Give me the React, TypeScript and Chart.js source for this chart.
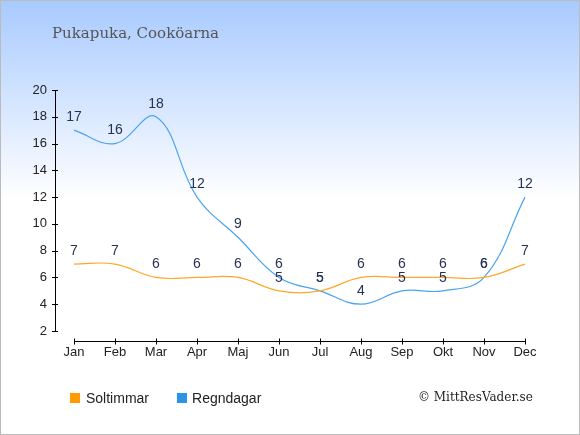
import { useEffect, useRef } from "react";
import { Chart, registerables } from "chart.js";

Chart.register(...registerables);

const months = ["Jan", "Feb", "Mar", "Apr", "Maj", "Jun", "Jul", "Aug", "Sep", "Okt", "Nov", "Dec"];
const sunHours = [7, 7, 6, 6, 6, 5, 5, 6, 6, 6, 6, 7];
const rainDays = [17, 16, 18, 12, 9, 6, 5, 4, 5, 5, 6, 12];
const yTicks = [2, 4, 6, 8, 10, 12, 14, 16, 18, 20];

const W = 580;
const H = 435;

const backgroundPlugin = {
  id: "bg",
  beforeDraw(chart: Chart) {
    const ctx = chart.ctx;
    ctx.save();
    const g = ctx.createLinearGradient(0, 0, 0, 200);
    g.addColorStop(0, "#a8caff");
    g.addColorStop(1, "#ffffff");
    ctx.fillStyle = "#ffffff";
    ctx.fillRect(0, 0, W, H);
    ctx.fillStyle = g;
    ctx.fillRect(0, 0, W, 200);
    ctx.strokeStyle = "#bbbbbb";
    ctx.lineWidth = 1;
    ctx.strokeRect(0.5, 0.5, W - 1, H - 1);
    ctx.restore();
  },
};

const axesPlugin = {
  id: "axes",
  beforeDatasetsDraw(chart: Chart) {
    const ctx = chart.ctx;
    const x = chart.scales.x;
    const y = chart.scales.y;
    ctx.save();
    ctx.strokeStyle = "#000000";
    ctx.lineWidth = 1;
    const ax = 55.5;
    ctx.beginPath();
    ctx.moveTo(ax, y.getPixelForValue(20));
    ctx.lineTo(ax, y.getPixelForValue(2));
    yTicks.forEach((t) => {
      const py = Math.round(y.getPixelForValue(t)) + 0.5;
      ctx.moveTo(52, py);
      ctx.lineTo(58, py);
    });
    const ay = 341.5;
    ctx.moveTo(x.getPixelForValue(0), ay);
    ctx.lineTo(x.getPixelForValue(months.length - 1), ay);
    months.forEach((_, i) => {
      const px = Math.round(x.getPixelForValue(i)) + 0.5;
      ctx.moveTo(px, ay - 3);
      ctx.lineTo(px, ay + 3);
    });
    ctx.stroke();
    ctx.restore();
  },
};

const labelPlugin = {
  id: "pointLabels",
  afterDatasetsDraw(chart: Chart) {
    const ctx = chart.ctx;
    ctx.save();
    ctx.font = "14px 'Liberation Sans', Arial, sans-serif";
    ctx.fillStyle = "#263352";
    ctx.textAlign = "center";
    ctx.textBaseline = "bottom";
    chart.data.datasets.forEach((ds, di) => {
      const meta = chart.getDatasetMeta(di);
      meta.data.forEach((pt, i) => {
        ctx.fillText(String(ds.data[i]), pt.x, pt.y - 6);
      });
    });
    ctx.restore();
  },
};

export default function App() {
  const canvasRef = useRef<HTMLCanvasElement>(null);
  const chartRef = useRef<Chart | null>(null);

  useEffect(() => {
    document.body.style.margin = "0";
    if (!canvasRef.current) return;
    if (chartRef.current) chartRef.current.destroy();
    Chart.defaults.font.family = "'Liberation Sans', Arial, sans-serif";

    chartRef.current = new Chart(canvasRef.current, {
      type: "line",
      data: {
        labels: months,
        datasets: [
          {
            label: "Soltimmar",
            data: sunHours,
            borderColor: "#ffa726",
            borderWidth: 1.2,
            pointRadius: 0,
            tension: 0.4,
            fill: false,
          },
          {
            label: "Regndagar",
            data: rainDays,
            borderColor: "#4aa3f0",
            borderWidth: 1.2,
            pointRadius: 0,
            tension: 0.4,
            fill: false,
          },
        ],
      },
      options: {
        responsive: false,
        animation: false,
        devicePixelRatio: 1,
        layout: { padding: { left: 0, right: 55, top: 90, bottom: 0 } },
        plugins: {
          legend: { display: false },
          tooltip: { enabled: false },
        },
        scales: {
          x: {
            offset: false,
            grid: { display: false },
            border: { display: false },
            ticks: { color: "#222222", font: { size: 13 }, padding: 6 },
            afterFit: (s: any) => {
              s.height = H - 331;
            },
          },
          y: {
            min: 2,
            max: 20,
            grid: { display: false },
            border: { display: false },
            ticks: { stepSize: 2, color: "#222222", font: { size: 13 }, padding: 19 },
            afterFit: (s: any) => {
              s.width = 74;
            },
          },
        },
      },
      plugins: [backgroundPlugin, axesPlugin, labelPlugin],
    });

    return () => {
      if (chartRef.current) {
        chartRef.current.destroy();
        chartRef.current = null;
      }
    };
  }, []);

  return (
    <div style={{ position: "relative", width: W, height: H }}>
      <canvas ref={canvasRef} width={W} height={H} style={{ display: "block" }} />
      <div
        style={{
          position: "absolute",
          left: 52,
          top: 24,
          font: "15px 'DejaVu Serif', serif",
          color: "#555555",
        }}
      >
        Pukapuka, Cooköarna
      </div>
      <div
        style={{
          position: "absolute",
          left: 70,
          top: 390,
          display: "flex",
          alignItems: "center",
          font: "14px 'Liberation Sans', Arial, sans-serif",
          color: "#222222",
        }}
      >
        <span style={{ width: 10, height: 10, background: "#ff9a00", marginRight: 6 }} />
        <span style={{ marginRight: 28 }}>Soltimmar</span>
        <span style={{ width: 10, height: 10, background: "#2b94e8", marginRight: 5 }} />
        <span>Regndagar</span>
      </div>
      <div
        style={{
          position: "absolute",
          left: 418,
          top: 390,
          font: "12px 'DejaVu Serif', serif",
          color: "#222222",
        }}
      >
        © MittResVader.se
      </div>
    </div>
  );
}
